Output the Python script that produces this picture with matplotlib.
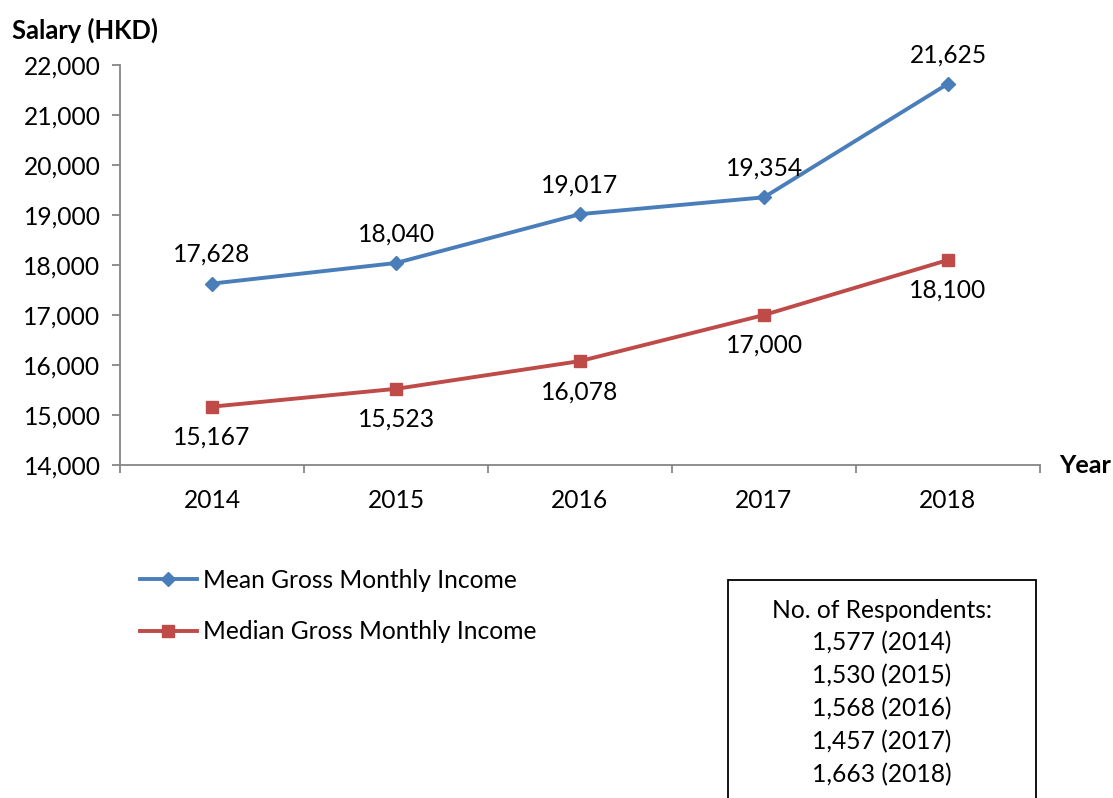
import numpy as np
import matplotlib.pyplot as plt
from matplotlib.patches import Rectangle

## chart data
years = ['2014', '2015', '2016', '2017', '2018']
mean_income = [17628, 18040, 19017, 19354, 21625]
median_income = [15167, 15523, 16078, 17000, 18100]
respondents = ['1,577', '1,530', '1,568', '1,457', '1,663']

plt.rcParams['font.family'] = ['Lato', 'DejaVu Sans']
fs = 17.7

fig = plt.figure(figsize=(11.13, 7.98), dpi=100)
ax = fig.add_axes([120 / 1113, 1 - 465 / 798, 920 / 1113, 400 / 798])

x = np.arange(len(years)) + 0.5
blue = '#4a7ebb'
red = '#be4b48'

ax.plot(x, mean_income, color=blue, lw=2.8, marker='D', ms=7.5, label='Mean Gross Monthly Income')
ax.plot(x, median_income, color=red, lw=2.8, marker='s', ms=9, label='Median Gross Monthly Income')

## data labels
for xi, v in zip(x, mean_income):
    ax.annotate(f'{v:,}', (xi, v), xytext=(0, 21), textcoords='offset points',
                ha='center', va='center', fontsize=fs)
for xi, v in zip(x, median_income):
    ax.annotate(f'{v:,}', (xi, v), xytext=(0, -22), textcoords='offset points',
                ha='center', va='center', fontsize=fs)

## axes
ax.set_xlim(0, len(years))
ax.set_ylim(14000, 22000)
ax.set_yticks(range(14000, 22001, 1000))
ax.set_yticklabels([f'{t:,}' for t in range(14000, 22001, 1000)], fontsize=fs)
ax.set_xticks(np.arange(len(years) + 1))
ax.set_xticklabels([])
ax.set_xticks(x, minor=True)
ax.set_xticklabels(years, minor=True, fontsize=fs)
ax.tick_params(axis='x', which='minor', length=0, pad=17)
ax.tick_params(axis='x', which='major', length=6, color='#868686', width=1.3, direction='out')
ax.tick_params(axis='y', length=6, color='#868686', width=1.3, direction='out', pad=8)
for side in ['top', 'right']:
    ax.spines[side].set_visible(False)
for side in ['left', 'bottom']:
    ax.spines[side].set_color('#868686')
    ax.spines[side].set_linewidth(1.3)

fig.text(12 / 1113, 1 - 30 / 798, 'Salary (HKD)', fontsize=18.4, fontweight='bold', va='center', ha='left')
fig.text(1059 / 1113, 1 - 465 / 798, 'Year', fontsize=18.2, fontweight='bold', va='center', ha='left')

## legend
fig.legend(loc='center left', bbox_to_anchor=(140 / 1113, 1 - 606 / 798), frameon=False,
           fontsize=fs, handlelength=2.3, handletextpad=0.25, labelspacing=1.15,
           borderaxespad=0, borderpad=0)

## respondents box
fig.patches.append(Rectangle((728 / 1113, -0.05), (1036 - 728) / 1113, (0.05 + 1 - 580 / 798),
                             transform=fig.transFigure, fill=False, ec='black', lw=1.3))
box_lines = ['No. of Respondents:'] + [f'{r} ({y})' for r, y in zip(respondents, years)]
for i, line in enumerate(box_lines):
    fig.text(882 / 1113, 1 - (610 + i * 33) / 798, line, fontsize=fs, ha='center', va='center')

plt.savefig('out.png', dpi=100)
